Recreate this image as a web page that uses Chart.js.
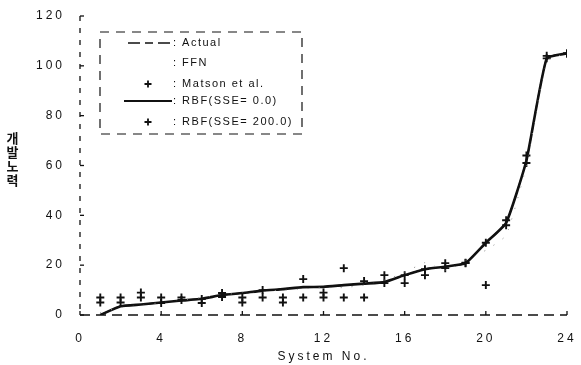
<!DOCTYPE html>
<html lang="ko">
<head>
    <meta charset="UTF-8">
    <title>System No. - 개발노력</title>
    <style>
        body {
            margin: 0;
            background: #fff;
        }
        .wrap {
            position: relative;
            width: 581px;
            height: 365px;
        }
        .ylabel {
            position: absolute;
            left: 5px;
            top: 131px;
            width: 15px;
            font-family: "Noto Sans CJK KR", sans-serif;
            font-size: 13px;
            font-weight: bold;
            line-height: 14px;
            text-align: center;
            color: #111;
        }
    </style>
</head>
<body>
    <div class="wrap">
        <canvas id="chart" width="581" height="365"></canvas>
        <div class="ylabel">개<br>발<br>노<br>력</div>
    </div>

    <script src="https://cdn.jsdelivr.net/npm/chart.js"></script>
    <script>
        // System No. 1..24
        const systemNo = [1, 2, 3, 4, 5, 6, 7, 8, 9, 10, 11, 12, 13, 14, 15, 16, 17, 18, 19, 20, 21, 22, 23, 24];

        // valores
        const actual = [0, 3.5, 4.2, 5, 5.8, 6.5, 8, 8.8, 9.8, 10.4, 11.2, 11.3, 12, 12.6, 13.2, 16, 18.4, 19.4, 20.8, 29, 37, 62, 103, 105];
        const ffn = [1, 3, 4, 5, 6, 7, 8, 9, 9.5, 10, 10.5, 11, 11, 12, 14, 17, 21, 18, 22, 26, 32, 60, 102, 105];
        const matson = [7, 7, 9, 7, 7, 6.4, 8.8, 7, 10, 7, 14.4, 9, 18.8, 13.6, 16, 12.8, 18.4, 20.8, 20.8, 12, 38, 64, 104, 105];
        const rbf0 = [0, 3.5, 4.2, 5, 5.8, 6.5, 8, 8.8, 9.8, 10.4, 11.2, 11.3, 12, 12.6, 13.2, 16, 18.4, 19.4, 20.8, 29, 37, 62, 103, 105];
        const rbf200 = [5, 5, 7, 4.8, 6, 4.8, 7.2, 5, 7, 5, 7, 7, 7, 7, 12.8, 16, 16, 18.8, 21, 29, 36, 61, 103, 105];

        const xTicks = [0, 4, 8, 12, 16, 20, 24];
        const yTicks = [0, 20, 40, 60, 80, 100, 120];

        const legendItems = [
            { text: ': Actual', kind: 'dash' },
            { text: ': FFN', kind: 'none' },
            { text: ': Matson et al.', kind: 'plus' },
            { text: ': RBF(SSE= 0.0)', kind: 'solid' },
            { text: ': RBF(SSE= 200.0)', kind: 'plus' }
        ];

        const pts = arr => arr.map((v, i) => ({ x: systemNo[i], y: v }));
        const ink = '#111';

        function drawPlus(ctx, x, y, r) {
            ctx.beginPath();
            ctx.moveTo(x - r, y); ctx.lineTo(x + r, y);
            ctx.moveTo(x, y - r); ctx.lineTo(x, y + r);
            ctx.stroke();
        }

        function noPad(s) {
            s.paddingTop = 0;
            s.paddingBottom = 0;
            s.paddingLeft = 0;
            s.paddingRight = 0;
        }

        // ejes discontinuos, marcas y leyenda con recuadro punteado
        const decoPlugin = {
            id: 'deco',
            beforeDraw(chart) {
                chart.ctx.letterSpacing = '3px';
            },
            afterDraw(chart) {
                const ctx = chart.ctx;
                const xs = chart.scales.x, ys = chart.scales.y;
                const x0 = xs.getPixelForValue(0), x1 = xs.getPixelForValue(24);
                const y0 = ys.getPixelForValue(0), y1 = ys.getPixelForValue(120);
                ctx.save();
                ctx.strokeStyle = ink;
                ctx.lineWidth = 1.3;

                // eje Y
                ctx.setLineDash([5, 7]);
                ctx.beginPath(); ctx.moveTo(x0, y1); ctx.lineTo(x0, y0); ctx.stroke();
                // eje X
                ctx.setLineDash([10, 6]);
                ctx.beginPath(); ctx.moveTo(x0, y0); ctx.lineTo(x1, y0); ctx.stroke();
                ctx.setLineDash([]);

                yTicks.forEach(v => {
                    const y = ys.getPixelForValue(v);
                    ctx.beginPath(); ctx.moveTo(x0, y); ctx.lineTo(x0 + 4, y); ctx.stroke();
                });
                xTicks.forEach(v => {
                    const x = xs.getPixelForValue(v);
                    ctx.beginPath(); ctx.moveTo(x, y0); ctx.lineTo(x, y0 - 4); ctx.stroke();
                });

                // leyenda
                ctx.lineWidth = 1.2;
                ctx.setLineDash([9, 7]);
                ctx.strokeRect(100, 32, 202, 102);
                ctx.setLineDash([]);

                const rows = [43, 63, 84, 101, 122];
                ctx.letterSpacing = '1.5px';
                ctx.font = '11px "Liberation Sans", Arial, sans-serif';
                ctx.fillStyle = ink;
                ctx.textBaseline = 'middle';
                ctx.textAlign = 'left';
                legendItems.forEach((item, i) => {
                    const y = rows[i];
                    if (item.kind === 'dash') {
                        ctx.lineWidth = 1.5;
                        ctx.setLineDash([12, 5, 8, 5]);
                        ctx.beginPath(); ctx.moveTo(128, y); ctx.lineTo(172, y); ctx.stroke();
                        ctx.setLineDash([]);
                    } else if (item.kind === 'solid') {
                        ctx.lineWidth = 2.2;
                        ctx.beginPath(); ctx.moveTo(124, y); ctx.lineTo(172, y); ctx.stroke();
                    } else if (item.kind === 'plus') {
                        ctx.lineWidth = 1.8;
                        drawPlus(ctx, 148, y, 3.5);
                    }
                    ctx.fillText(item.text, 173, y);
                });
                ctx.restore();
                ctx.letterSpacing = '0px';
            }
        };

        new Chart(document.getElementById('chart'), {
            type: 'line',
            data: {
                datasets: [
                    {
                        label: 'Actual',
                        data: pts(actual),
                        borderColor: ink,
                        borderWidth: 1.5,
                        borderDash: [10, 5],
                        pointRadius: 0,
                        tension: 0.15
                    },
                    {
                        label: 'FFN',
                        data: pts(ffn),
                        borderColor: '#888',
                        borderWidth: 1,
                        borderDash: [1, 10],
                        pointRadius: 0,
                        tension: 0.15
                    },
                    {
                        label: 'Matson et al.',
                        data: pts(matson),
                        showLine: false,
                        pointStyle: 'cross',
                        pointRadius: 4,
                        borderColor: ink,
                        pointBorderWidth: 1.9
                    },
                    {
                        label: 'RBF(SSE= 0.0)',
                        data: pts(rbf0),
                        borderColor: ink,
                        borderWidth: 2.6,
                        pointRadius: 0,
                        tension: 0.15
                    },
                    {
                        label: 'RBF(SSE= 200.0)',
                        data: pts(rbf200),
                        showLine: false,
                        pointStyle: 'cross',
                        pointRadius: 4,
                        borderColor: ink,
                        pointBorderWidth: 1.9
                    }
                ]
            },
            options: {
                responsive: false,
                animation: false,
                layout: { padding: { top: 16, right: 14, left: 0, bottom: 0 } },
                plugins: {
                    legend: { display: false },
                    tooltip: { enabled: false }
                },
                scales: {
                    x: {
                        type: 'linear',
                        min: 0,
                        max: 24,
                        grid: { display: false, drawTicks: false },
                        border: { display: false },
                        ticks: {
                            stepSize: 4,
                            padding: 16,
                            color: ink,
                            font: { size: 12, family: '"Liberation Sans", Arial, sans-serif' }
                        },
                        title: {
                            display: true,
                            text: 'System No.',
                            color: ink,
                            padding: { top: 0, bottom: 1 },
                            font: { size: 12, family: '"Liberation Sans", Arial, sans-serif' }
                        },
                        afterFit: s => { s.height = 50; noPad(s); }
                    },
                    y: {
                        min: 0,
                        max: 120,
                        grid: { display: false, drawTicks: false },
                        border: { display: false },
                        ticks: {
                            stepSize: 20,
                            padding: 15,
                            color: ink,
                            font: { size: 12, family: '"Liberation Sans", Arial, sans-serif' }
                        },
                        afterFit: s => { s.width = 80; noPad(s); }
                    }
                }
            },
            plugins: [decoPlugin]
        });
    </script>
</body>
</html>
